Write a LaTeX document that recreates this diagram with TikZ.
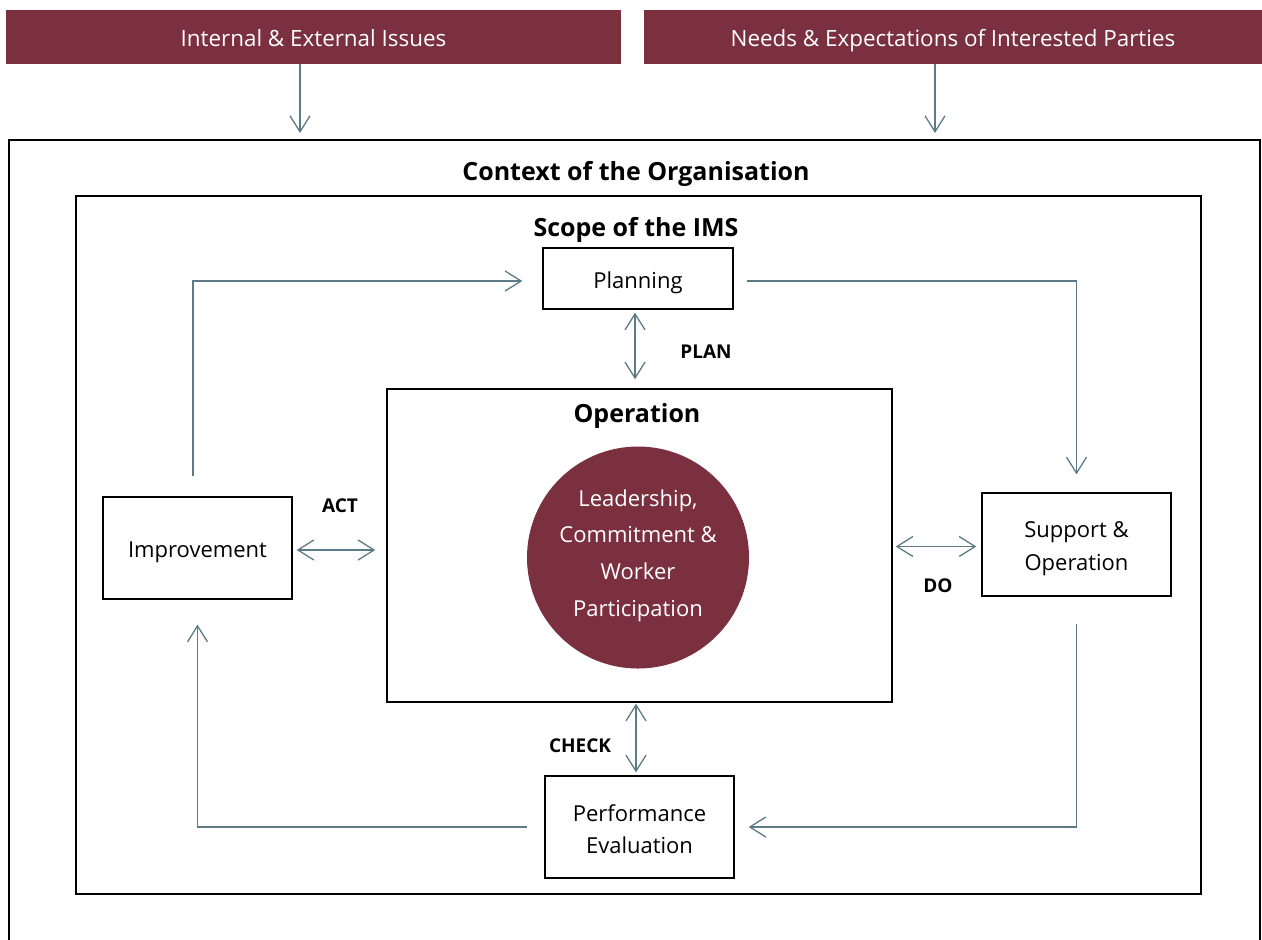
\documentclass[tikz,border=0pt]{standalone}
\usepackage{fontspec}
\setmainfont{Open Sans}
\usetikzlibrary{arrows.meta,calc}
\definecolor{maroon}{HTML}{7B3040}
\definecolor{conncol}{HTML}{5C7B86}
\begin{document}
\begin{tikzpicture}[x=0.5pt,y=-0.5pt,
  bar/.style={fill=maroon,draw=none,text=white,font=\fontsize{11.2}{13}\selectfont,inner sep=0pt,text height=11pt,text depth=1.3pt},
  stepbox/.style={draw=black,line width=0.65pt,fill=white,inner sep=0pt},
  boxtext/.style={align=center,font=\fontsize{11}{16.3}\selectfont,inner sep=0pt},
  frame/.style={draw=black,line width=0.7pt},
  head/.style={font=\bfseries\fontsize{12.5}{15}\selectfont,inner sep=0pt},
  lab/.style={font=\bfseries\fontsize{9.5}{11}\selectfont,inner sep=0pt},
  conn/.style={draw=conncol,line width=0.65pt},
  arr/.style={conn,-{Straight Barb[length=8pt,width=10pt]}},
  darr/.style={conn,{Straight Barb[length=8pt,width=10pt]}-{Straight Barb[length=8pt,width=10pt]}}]
\useasboundingbox (0,0) rectangle (1262,939);
\clip (0,0) rectangle (1262,939);
% top bars
\node[bar,minimum width=307.5pt,minimum height=27pt] (bar1) at (313.5,37) {Internal \& External Issues};
\node[bar,minimum width=309pt,minimum height=27pt] (bar2) at (953,37) {Needs \& Expectations of Interested Parties};
% outer frames
\node[frame,minimum width=625.5pt,minimum height=410pt,inner sep=0pt] (context) at (634.5,550) {};
\node[frame,minimum width=562.5pt,minimum height=349pt,inner sep=0pt] (scope) at (638.5,545) {};
\node[head] (contextlab) at (636,174) {Context of the Organisation};
\node[head] (scopelab) at (636,230) {Scope of the IMS};
% inputs
\coordinate (in1) at (300,133);
\coordinate (in2) at (935,133);
\draw[arr] (bar1.south -| in1) -- (in1);
\draw[arr] (bar2.south -| in2) -- (in2);
% operation
\node[frame,minimum width=252.5pt,minimum height=156.5pt,inner sep=0pt] (operation) at (639.5,545.5) {};
\node[head] (oplab) at (637,416) {Operation};
\node[circle,fill=maroon,minimum size=111pt,inner sep=0pt,
  label={[boxtext,text=white,font=\fontsize{11}{18.3}\selectfont,yshift=1pt]center:Leadership,\\Commitment \&\\Worker\\Participation}] (lead) at (638,557.5) {};
% boxes
\node[stepbox,minimum width=95pt,minimum height=30.5pt,label={[boxtext,yshift=-2pt]center:Planning}] (planning) at (638,278.5) {};
\node[stepbox,minimum width=94.5pt,minimum height=51pt,label={[boxtext,yshift=-2pt]center:Improvement}] (improvement) at (197.5,548) {};
\node[stepbox,minimum width=94.5pt,minimum height=51.5pt,label={[boxtext,yshift=-2pt]center:Support \&\\Operation}] (support) at (1076.5,544.5) {};
\node[stepbox,minimum width=94.5pt,minimum height=51pt,label={[boxtext,yshift=-1pt]center:Performance\\Evaluation}] (perf) at (639.5,827) {};
% cycle connectors
\draw[arr,shorten <=10pt,shorten >=10pt] ([xshift=-2.25pt]improvement.north) |- ([yshift=-1.25pt]planning.west);
\draw[arr,shorten <=6.5pt,shorten >=9pt] ([yshift=-1.25pt]planning.east) -| (support.north);
\draw[arr,shorten <=13.5pt,shorten >=7pt] (support.south) |- (perf.east);
\draw[arr,shorten <=8.5pt,shorten >=12.5pt] (perf.west) -| (improvement.south);
% PDCA links
\draw[darr,shorten <=1.5pt,shorten >=4.5pt] ([xshift=-1.5pt]planning.south) -- ([xshift=-1.5pt]planning.south |- operation.north);
\draw[darr,shorten <=2pt,shorten >=5.5pt] ([yshift=-1pt]improvement.east) -- ([yshift=-1pt]improvement.east -| operation.west);
\draw[darr,shorten <=1.5pt,shorten >=2.5pt] ([yshift=-1pt]support.west -| operation.east) -- ([yshift=-1pt]support.west);
\draw[darr,shorten <=0.5pt,shorten >=1.5pt] ([xshift=-1.75pt]perf.north |- operation.south) -- ([xshift=-1.75pt]perf.north);
% labels
\node[lab] (planlab) at (706,352) {PLAN};
\node[lab] (actlab) at (340,506) {ACT};
\node[lab] (dolab) at (938,586) {DO};
\node[lab] (checklab) at (580,746) {CHECK};
\end{tikzpicture}
\end{document}
